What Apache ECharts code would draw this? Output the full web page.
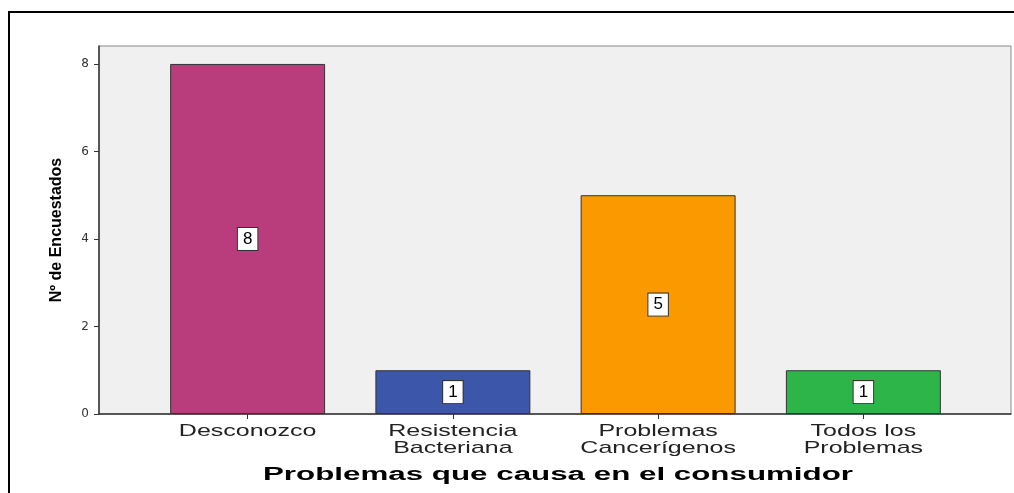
<!DOCTYPE html>
<html>
<head>
<meta charset="utf-8">
<script src="https://cdn.jsdelivr.net/npm/echarts@6/dist/echarts.min.js"></script>
<style>
html,body{margin:0;padding:0;background:#fff;}
#main{width:1014px;height:493px;}
</style>
</head>
<body>
<div id="main"></div>
<script>
const categories = ['Desconozco', 'Resistencia\nBacteriana', 'Problemas\nCancerígenos', 'Todos los\nProblemas'];
const counts = [8, 1, 5, 1];
const barColors = ['#b93d7c', '#3c56aa', '#fa9a00', '#2eb54a'];
const yTicks = [0, 2, 4, 6, 8];
const yMax = 8.41;
const xTitle = 'Problemas que causa en el consumidor';
const yTitle = 'Nº de Encuestados';

const chart = echarts.init(document.getElementById('main'));

const option = {
  backgroundColor: '#fff',
  animation: false,
  grid: [
    { left: 99, right: 3, top: 46, bottom: 79, show: true, backgroundColor: '#f0f0f0', borderColor: '#8a8a8a', borderWidth: 1, z: 0 },
    { left: 145, width: 821, top: 46, bottom: 79 }
  ],
  xAxis: [
    { type: 'value', gridIndex: 0, min: 0, max: 1, axisLine: { show: true, onZero: false, lineStyle: { color: '#333', width: 1.5 } },
      axisTick: { show: false }, axisLabel: { show: false }, splitLine: { show: false } },
    { type: 'category', gridIndex: 1, data: categories, boundaryGap: true,
      axisLine: { show: false }, axisTick: { show: true, alignWithLabel: true, length: 5, lineStyle: { color: '#333' } },
      axisLabel: { show: false } }
  ],
  yAxis: [
    { type: 'value', gridIndex: 0, min: 0, max: yMax, interval: 2,
      axisLine: { show: true, lineStyle: { color: '#333', width: 1.5 } },
      axisTick: { show: true, length: 5, customValues: yTicks, lineStyle: { color: '#333' } },
      axisLabel: { customValues: yTicks, margin: 10, fontFamily: 'DejaVu Sans', fontSize: 12, color: '#333' },
      splitLine: { show: false },
      name: yTitle, nameLocation: 'middle', nameGap: 34, nameRotate: 90,
      nameTextStyle: { fontFamily: 'Liberation Sans', fontWeight: 'bold', fontSize: 16, color: '#000' } },
    { type: 'value', gridIndex: 1, min: 0, max: yMax, show: false, splitLine: { show: false } }
  ],
  series: [{
    type: 'bar',
    xAxisIndex: 1, yAxisIndex: 1,
    barWidth: '75.5%',
    data: counts.map((v, i) => ({ value: v, itemStyle: { color: barColors[i] } })),
    itemStyle: { borderColor: '#333', borderWidth: 1 },
    label: {
      show: true, position: 'inside',
      fontFamily: 'Liberation Sans', fontSize: 17, color: '#000',
      backgroundColor: '#fff', borderColor: '#333', borderWidth: 1,
      padding: [3, 5, 2, 5]
    }
  }]
};
chart.setOption(option);

const y0 = chart.convertToPixel({ yAxisIndex: 0 }, 0);
const xl = chart.convertToPixel({ xAxisIndex: 0 }, 0);
const xr = chart.convertToPixel({ xAxisIndex: 0 }, 1);
const graphics = categories.map((c, i) => ({
  type: 'text', silent: true,
  x: chart.convertToPixel({ xAxisIndex: 1 }, i), y: y0 + 9, scaleX: 1.47,
  style: { text: c, font: '17px "Liberation Sans"', fill: '#222', textAlign: 'center', textVerticalAlign: 'top', lineHeight: 17 }
}));
graphics.push({
  type: 'text', silent: true,
  x: (xl + xr) / 2 + 3, y: y0 + 61, scaleX: 1.74,
  style: { text: xTitle, font: 'bold 18px "Liberation Sans"', fill: '#000', textAlign: 'center', textVerticalAlign: 'middle' }
});
graphics.push({
  type: 'rect', silent: true, z: 100,
  shape: { x: 9, y: 12, width: 1300, height: 700 },
  style: { fill: 'none', stroke: '#000', lineWidth: 2 }
});
chart.setOption({ graphic: graphics });
</script>
</body>
</html>
